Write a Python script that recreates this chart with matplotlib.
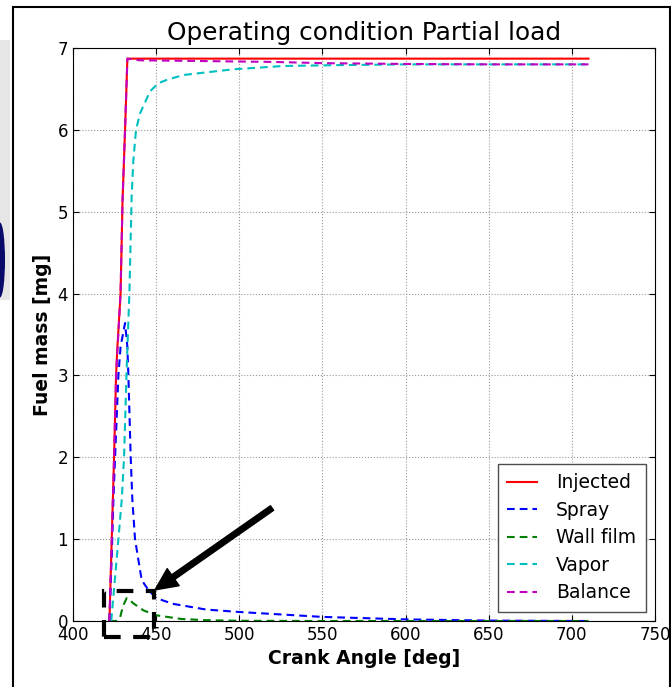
import matplotlib
matplotlib.use("Agg")
import matplotlib.pyplot as plt
from matplotlib.patches import Rectangle, Ellipse

# ---------------- data ----------------
inj_x = [421.9, 423.3, 424.7, 425.9, 426.6, 428.6, 429.8, 431.3, 432.7, 710]
inj_y = [0.0, 1.0, 2.0, 3.0, 3.31, 4.0, 5.14, 6.0, 6.87, 6.87]

spr_x = [421.9, 423.3, 424.3, 425.3, 427.3, 428.6, 431.3, 432.7, 433.3, 434.7,
         435.7, 437.3, 441.3, 445.3, 450, 460, 480, 500, 550, 600, 650, 710]
spr_y = [0.0, 0.8, 1.48, 2.0, 3.0, 3.35, 3.64, 3.35, 3.0, 2.0,
         1.48, 1.0, 0.5, 0.38, 0.28, 0.21, 0.14, 0.11, 0.05, 0.02, 0.005, 0.0]

wf_x = [421.9, 426, 428.3, 430, 432.3, 434, 436, 442.3, 450, 465, 480, 500, 550, 710]
wf_y = [0.0, 0.0, 0.04, 0.18, 0.28, 0.26, 0.22, 0.13, 0.07, 0.025, 0.01, 0.003, 0.0, 0.0]

vap_x = [423.0, 427.3, 429.3, 430.7, 432.3, 433.9, 435.3, 436.3, 437.9, 440.3,
         446.3, 451.3, 456.3, 466.3, 496.4, 526.5, 556.5, 600, 710]
vap_y = [0.0, 1.0, 1.48, 2.0, 3.1, 4.0, 5.2, 5.63, 6.0, 6.2,
         6.47, 6.57, 6.61, 6.67, 6.74, 6.78, 6.79, 6.80, 6.80]

bal_x = [421.9, 423.3, 424.7, 425.9, 428.6, 429.8, 431.3, 432.7, 440, 480,
         520, 550, 600, 650, 710]
bal_y = [0.0, 1.0, 2.0, 3.0, 4.0, 5.14, 6.0, 6.87, 6.85, 6.84,
         6.83, 6.815, 6.805, 6.80, 6.80]

series_labels = ["Injected", "Spray", "Wall film", "Vapor", "Balance"]
title = "Operating condition Partial load"
x_ticks = [400, 450, 500, 550, 600, 650, 700, 750]
y_ticks = [0, 1, 2, 3, 4, 5, 6, 7]

# ---------------- figure ----------------
fig = plt.figure(figsize=(6.71, 6.87), dpi=100)
ax = fig.add_axes([73 / 671, 1 - 621 / 687, (655 - 73) / 671, (621 - 48) / 687])

dash = (0, (3.7, 2.4))
ax.plot(inj_x, inj_y, color=(1, 0, 0), lw=1.5, label=series_labels[0])
ax.plot(spr_x, spr_y, color=(0, 0, 1), lw=1.5, ls=dash, label=series_labels[1])
ax.plot(wf_x, wf_y, color=(0, 0.5, 0), lw=1.5, ls=dash, label=series_labels[2])
ax.plot(vap_x, vap_y, color=(0, 0.75, 0.75), lw=1.5, ls=dash, label=series_labels[3])
ax.plot(bal_x, bal_y, color=(0.75, 0, 0.75), lw=1.5, ls=dash, label=series_labels[4])

ax.set_xlim(400, 750)
ax.set_ylim(0, 7)
ax.set_xticks(x_ticks)
ax.set_yticks(y_ticks)
ax.tick_params(direction="in", top=True, right=True, labelsize=12, length=4)
ax.grid(True, color="0.6", linestyle=":", linewidth=0.8)
ax.set_axisbelow(True)

ax.set_title(title, fontsize=17.8)
ax.set_xlabel("Crank Angle [deg]", fontsize=13.5, fontweight="bold")
ax.set_ylabel("Fuel mass [mg]", fontsize=13.5, fontweight="bold")

leg = ax.legend(loc="lower right", fontsize=13.5, fancybox=False,
                handlelength=1.6, handletextpad=1.0, labelspacing=0.45,
                borderpad=0.5, framealpha=1)
leg.get_frame().set_edgecolor("0.3")
leg.get_frame().set_linewidth(1.0)

# dashed highlight box (extends below axis)
rect = Rectangle((418.6, -0.2), 30.1, 0.57, fill=False, edgecolor="black",
                 lw=3, ls=(0, (4, 3)), clip_on=False, zorder=5)
ax.add_patch(rect)

# arrow
ax.annotate("", xy=(449.3, 0.38), xytext=(519.7, 1.38),
            arrowprops=dict(facecolor="black", edgecolor="black", width=4,
                            headwidth=15, headlength=16, shrink=0),
            zorder=6)

# figure frame and neighbouring-image remnants
fig.patches.append(Rectangle((13 / 671, -0.05), (670 - 13) / 671, 1.05 - 7 / 687,
                             transform=fig.transFigure, fill=False,
                             edgecolor="black", lw=1.5))
fig.patches.append(Rectangle((0, 1 - 300 / 687), 10 / 671, 260 / 687,
                             transform=fig.transFigure,
                             facecolor="0.9", edgecolor="none"))
fig.patches.append(Ellipse((0, 1 - 260 / 687), 10 / 671, 75 / 687,
                           transform=fig.transFigure, facecolor="#0a0a6a",
                           edgecolor="none"))

fig.savefig("out.png", dpi=100)
